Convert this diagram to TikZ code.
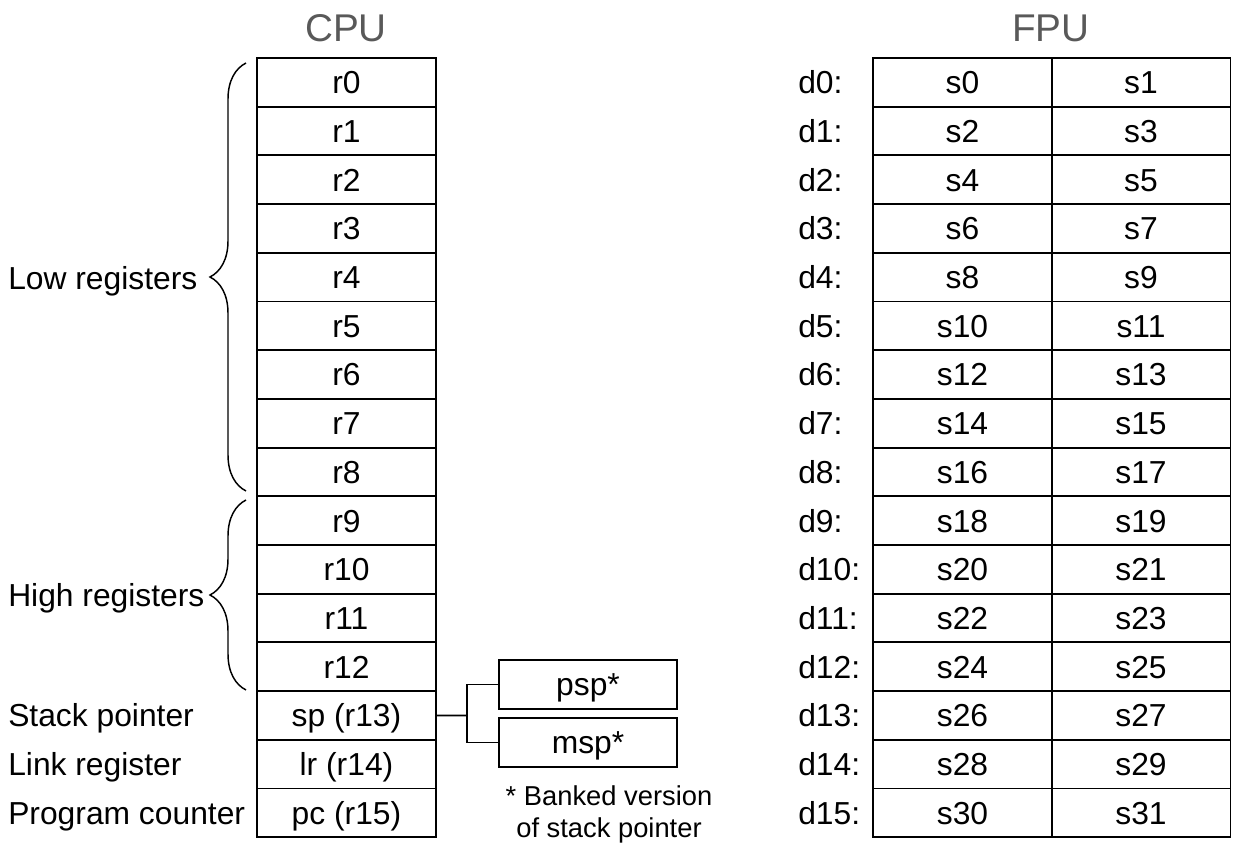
\documentclass[tikz,border=0pt]{standalone}
\usepackage{fontspec}
\setmainfont{Liberation Sans}
\usetikzlibrary{decorations.pathreplacing}
\definecolor{titlegray}{RGB}{89,89,89}
\begin{document}
\begin{tikzpicture}
[x=0.75pt,y=-0.75pt,
  regdecorate/.style={shape=rectangle,draw,line width=1.4pt,inner sep=0pt,
    minimum width=134.25pt,minimum height=36.5pt,text height=17.1pt,text depth=0pt,
    font=\fontsize{23.85}{28}\selectfont},%
  labeldecorate/.style={anchor=west,inner sep=0pt,text height=17.1pt,text depth=0pt,
    font=\fontsize{23.85}{28}\selectfont},%
  titledecorate/.style={text=titlegray,inner sep=0pt,font=\fontsize{29}{34}\selectfont},%
  bracedecorate/.style={decorate,decoration={brace,amplitude=27pt},line width=1.1pt},%
  linedecorate/.style={-,line width=1.4pt}]
\useasboundingbox (0,0) rectangle (1233,848);
%% titles
\node (cputitle) at (346,28) [titledecorate] {CPU};
\node (fputitle) at (1051,28) [titledecorate] {FPU};
%% cpu registers
\foreach \nodename/\lbl [count=\i from 0] in {r0/r0, r1/r1, r2/r2, r3/r3,
  r4/r4, r5/r5, r6/r6, r7/r7, r8/r8, r9/r9, r10/r10, r11/r11, r12/r12,
  sp/sp (r13), lr/lr (r14), pc/pc (r15)}
{
  \node (\nodename) at (346.5,{82.35+48.7*\i}) [regdecorate] {\lbl};
}
%% fpu registers
\foreach \i in {0,...,15}
{
  \pgfmathtruncatemacro{\a}{2*\i}
  \pgfmathtruncatemacro{\b}{2*\i+1}
  \node (s\a) at (962.5,{82.35+48.7*\i}) [regdecorate] {s\a};
  \node (s\b) at (1141,{82.35+48.7*\i}) [regdecorate] {s\b};
  \node (d\i) at (798,{82.35+48.7*\i}) [labeldecorate] {d\i:};
}
%% banked stack pointers
\node (psp) at (588,684.5) [regdecorate,minimum width=133.5pt] {psp*};
\node (msp) at (588,742.5) [regdecorate,minimum width=133.5pt] {msp*};
\coordinate (junction) at (467,715.5);
\draw[linedecorate] (sp.east) -- (junction);
\draw[linedecorate] (psp.west) -| (junction) |- (msp.west);
\node (note) at (609,814) [align=center,inner sep=0pt,
  font=\fontsize{20.5}{24}\selectfont] {* Banked version\\of stack pointer};
%% groups
\draw[bracedecorate] (246,491) -- (246,63);
\draw[bracedecorate] (246,690) -- (246,500);
\node (low) at (8,278) [labeldecorate] {Low registers};
\node (high) at (8,595) [labeldecorate] {High registers};
\node (stack) at (8,715.5) [labeldecorate] {Stack pointer};
\node (link) at (8,764.2) [labeldecorate] {Link register};
\node (counter) at (8,812.9) [labeldecorate] {Program counter};
\end{tikzpicture}
\end{document}
